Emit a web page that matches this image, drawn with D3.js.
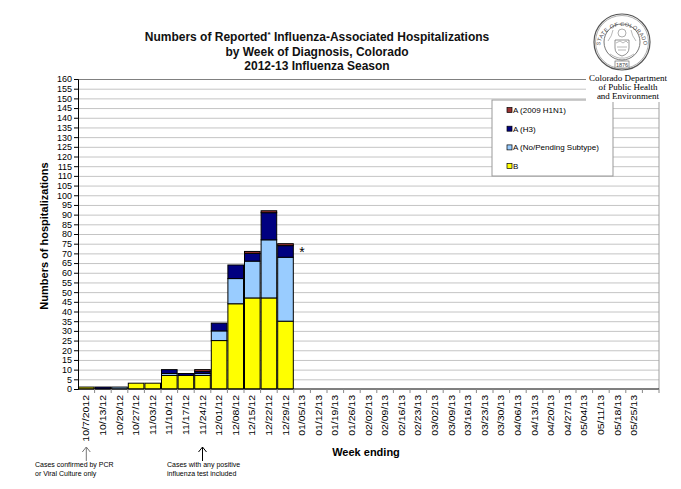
<!DOCTYPE html>
<html>
<head>
<meta charset="utf-8">
<script src="https://cdn.jsdelivr.net/npm/d3@7"></script>
<style>
  body { margin: 0; background: #fff; }
  text { font-family: "Liberation Sans", Arial, sans-serif; }
</style>
</head>
<body>
<div id="chart"></div>
<script>
var weeks = ['10/7/2012', '10/13/12', '10/20/12', '10/27/12', '11/03/12', '11/10/12', '11/17/12',
    '11/24/12', '12/01/12', '12/08/12', '12/15/12', '12/22/12', '12/29/12', '01/05/13', '01/12/13',
    '01/19/13', '01/26/13', '02/02/13', '02/09/13', '02/16/13', '02/23/13', '03/02/13', '03/09/13',
    '03/16/13', '03/23/13', '03/30/13', '04/06/13', '04/13/13', '04/20/13', '04/27/13', '05/04/13',
    '05/11/13', '05/18/13', '05/25/13', ''];

// counts per week, only the first 13 weeks have data
var typeB     = [1, 0, 0, 3, 3, 7, 7, 7, 25, 44, 47, 47, 35];
var noPending = [0, 0, 1, 0, 0, 1, 0, 1, 5, 13, 19, 30, 33];
var h3        = [0, 1, 0, 0, 0, 2, 1, 1, 4, 7, 4, 14, 6];
var h1n1      = [0, 0, 0, 0, 0, 0, 0, 1, 0, 0, 1, 1, 1];

var seriesNames = ['B', 'A (No/Pending Subtype)', 'A (H3)', 'A (2009 H1N1)'];
var seriesColors = ['#ffff00', '#99ccff', '#000080', '#993333'];
var yTicks = d3.range(0, 161, 5);

var width = 681;
var height = 489;
var plotLeft = 78, plotRight = 659, plotTop = 79, plotBottom = 389;

var svg = d3.select('#chart').append('svg')
    .attr('width', width)
    .attr('height', height);

var x = d3.scaleBand()
    .domain(weeks.map(function(d, i) { return i; }))
    .range([plotLeft, plotRight])
    .paddingInner(0.06)
    .paddingOuter(0.03);

var y = d3.scaleLinear()
    .domain([0, 160])
    .range([plotBottom, plotTop]);

// gridlines
svg.selectAll('.grid')
    .data(yTicks.slice(1))
  .enter().append('line')
    .attr('x1', plotLeft).attr('x2', plotRight)
    .attr('y1', function(d) { return y(d) + 0.5; })
    .attr('y2', function(d) { return y(d) + 0.5; })
    .attr('stroke', function(d) { return d === 160 ? '#808080' : '#c4c4c4'; })
    .attr('stroke-width', 1);

svg.append('line')
    .attr('x1', plotRight).attr('x2', plotRight)
    .attr('y1', plotTop).attr('y2', plotBottom)
    .attr('stroke', '#a0a0a0');

// stacked bars
var rows = typeB.map(function(d, i) {
    return { i: i, b: d, np: noPending[i], h3: h3[i], h1: h1n1[i] };
});
var stack = d3.stack().keys(['b', 'np', 'h3', 'h1']);
var layers = stack(rows);

svg.selectAll('.layer')
    .data(layers)
  .enter().append('g')
    .attr('fill', function(d, i) { return seriesColors[i]; })
  .selectAll('rect')
    .data(function(d) { return d.filter(function(p) { return p[1] > p[0]; }); })
  .enter().append('rect')
    .attr('x', function(d) { return x(d.data.i); })
    .attr('width', x.bandwidth())
    .attr('y', function(d) { return y(d[1]); })
    .attr('height', function(d) { return y(d[0]) - y(d[1]); })
    .attr('stroke', '#000')
    .attr('stroke-width', 1);

// y axis
var yAxis = svg.append('g')
    .attr('transform', 'translate(' + plotLeft + ',0)')
    .call(d3.axisLeft(y).tickValues(yTicks).tickSize(4).tickPadding(2));
yAxis.select('.domain').attr('stroke', '#000');
yAxis.selectAll('text').attr('font-size', 9).attr('fill', '#000');

// x axis
var step = x.step();
svg.append('line')
    .attr('x1', plotLeft).attr('x2', plotRight)
    .attr('y1', plotBottom).attr('y2', plotBottom)
    .attr('stroke', '#000');

svg.selectAll('.xtick')
    .data(weeks)
  .enter().append('line')
    .attr('x1', function(d, i) { return x(i) + x.bandwidth() + (step - x.bandwidth()) / 2; })
    .attr('x2', function(d, i) { return x(i) + x.bandwidth() + (step - x.bandwidth()) / 2; })
    .attr('y1', plotBottom).attr('y2', plotBottom + 4)
    .attr('stroke', '#888');

// labels are tall and narrow in the original, so squeeze the glyph height a bit
svg.selectAll('.xlabel')
    .data(weeks)
  .enter().append('text')
    .attr('transform', function(d, i) {
        return 'translate(' + (x(i) + x.bandwidth() / 2 + 3) + ',' + (plotBottom + 6) + ') rotate(-90) scale(1,0.82)';
    })
    .attr('text-anchor', 'end')
    .attr('font-size', 10.5)
    .text(function(d) { return d; });

// titles
var title = svg.append('text')
    .attr('text-anchor', 'middle')
    .attr('font-size', 12)
    .attr('font-weight', 'bold')
    .attr('fill', '#111');
title.append('tspan').attr('x', 317).attr('y', 41).text('Numbers of Reported');
title.append('tspan').attr('dy', -4).attr('font-size', 8).text('*');
title.append('tspan').attr('dy', 4).text(' Influenza-Associated Hospitalizations');
title.append('tspan').attr('x', 317).attr('y', 56).text('by Week of Diagnosis, Colorado');
title.append('tspan').attr('x', 317).attr('y', 70).text('2012-13 Influenza Season');

svg.append('text')
    .attr('transform', 'translate(48,236) rotate(-90)')
    .attr('text-anchor', 'middle')
    .attr('font-size', 11)
    .attr('font-weight', 'bold')
    .text('Numbers of hospitalizations');

svg.append('text')
    .attr('x', 366).attr('y', 456)
    .attr('text-anchor', 'middle')
    .attr('font-size', 11)
    .attr('font-weight', 'bold')
    .text('Week ending');

// asterisk next to the last week with data
svg.append('text')
    .attr('x', x(13) + x.bandwidth() / 2).attr('y', y(68))
    .attr('text-anchor', 'middle')
    .attr('font-size', 14)
    .text('*');

// legend
var legend = svg.append('g').attr('transform', 'translate(492,100)');
legend.append('rect')
    .attr('width', 121).attr('height', 76)
    .attr('fill', '#fff')
    .attr('stroke', '#999');
var legendItems = legend.selectAll('.item')
    .data(seriesNames.slice().reverse())
  .enter().append('g')
    .attr('transform', function(d, i) { return 'translate(15,' + (10 + i * 18.7) + ')'; });
legendItems.append('rect')
    .attr('x', 0).attr('y', -2.5)
    .attr('width', 5).attr('height', 5)
    .attr('fill', function(d, i) { return seriesColors[3 - i]; })
    .attr('stroke', '#000').attr('stroke-width', 0.7);
legendItems.append('text')
    .attr('x', 6).attr('y', 3)
    .attr('font-size', 8)
    .text(function(d) { return d; });

// notes under the axis
var notes = [
    { cx: x(0) + x.bandwidth() / 2, tx: 35, color: '#777', lines: ['Cases confirmed by PCR', 'or Viral Culture only'] },
    { cx: x(7) + x.bandwidth() / 2, tx: 167, color: '#000', lines: ['Cases with any positive', 'influenza test included'] }
];
notes.forEach(function(n) {
    svg.append('line')
        .attr('x1', n.cx).attr('x2', n.cx)
        .attr('y1', 447).attr('y2', 461)
        .attr('stroke', n.color);
    svg.append('path')
        .attr('d', 'M' + (n.cx - 4) + ',452 L' + n.cx + ',447 L' + (n.cx + 4) + ',452')
        .attr('fill', 'none')
        .attr('stroke', n.color);
    n.lines.forEach(function(t, j) {
        svg.append('text')
            .attr('x', n.tx).attr('y', 467 + j * 9)
            .attr('font-size', 7)
            .text(t);
    });
});

// department logo
var logo = svg.append('g');
logo.append('rect')
    .attr('x', 586).attr('y', 72).attr('width', 84).attr('height', 30)
    .attr('fill', '#fff');
['Colorado Department', 'of Public Health', 'and Environment'].forEach(function(t, j) {
    logo.append('text')
        .attr('x', 628).attr('y', 81 + j * 9)
        .attr('text-anchor', 'middle')
        .attr('font-size', 9)
        .style('font-family', '"Liberation Serif", "Times New Roman", serif')
        .text(t);
});

var seal = svg.append('g').attr('transform', 'translate(622,42)');
seal.append('circle').attr('r', 28).attr('fill', '#fff').attr('stroke', '#555').attr('stroke-width', 1.2);
seal.append('circle').attr('r', 26.5).attr('fill', 'none').attr('stroke', '#777').attr('stroke-width', 0.6);
seal.append('circle').attr('r', 18).attr('fill', 'none').attr('stroke', '#555').attr('stroke-width', 0.8);
seal.append('path')
    .attr('id', 'sealArc')
    .attr('d', 'M-22,6 A22,22 0 1,1 22,6')
    .attr('fill', 'none');
seal.append('text')
    .attr('font-size', 5.5)
    .attr('fill', '#444')
    .attr('letter-spacing', 0.3)
  .append('textPath')
    .attr('href', '#sealArc')
    .attr('startOffset', '50%')
    .attr('text-anchor', 'middle')
    .text('STATE OF COLORADO');
seal.append('rect')
    .attr('x', -7).attr('y', 19).attr('width', 14).attr('height', 7)
    .attr('fill', '#fff').attr('stroke', '#555').attr('stroke-width', 0.6);
seal.append('text')
    .attr('y', 25).attr('text-anchor', 'middle')
    .attr('font-size', 5.5).attr('fill', '#444')
    .text('1876');
seal.append('path')
    .attr('d', 'M-7,-2 L7,-2 L7,6 Q7,12 0,14 Q-7,12 -7,6 Z')
    .attr('fill', 'none').attr('stroke', '#666').attr('stroke-width', 0.7);
seal.append('path')
    .attr('d', 'M-6,1 L-2,-1 L1,1 L4,-1 L6,1 M-5,5 L5,5 M-4,8 L4,8')
    .attr('fill', 'none').attr('stroke', '#888').attr('stroke-width', 0.6);
seal.append('circle').attr('cy', -9).attr('r', 4).attr('fill', 'none').attr('stroke', '#777').attr('stroke-width', 0.6);
seal.append('path')
    .attr('d', 'M-14,-1 Q-10,-6 -9,-12 M14,-1 Q10,-6 9,-12 M-12,12 Q-4,17 0,16 Q4,17 12,12')
    .attr('fill', 'none').attr('stroke', '#888').attr('stroke-width', 0.6);
</script>
</body>
</html>
